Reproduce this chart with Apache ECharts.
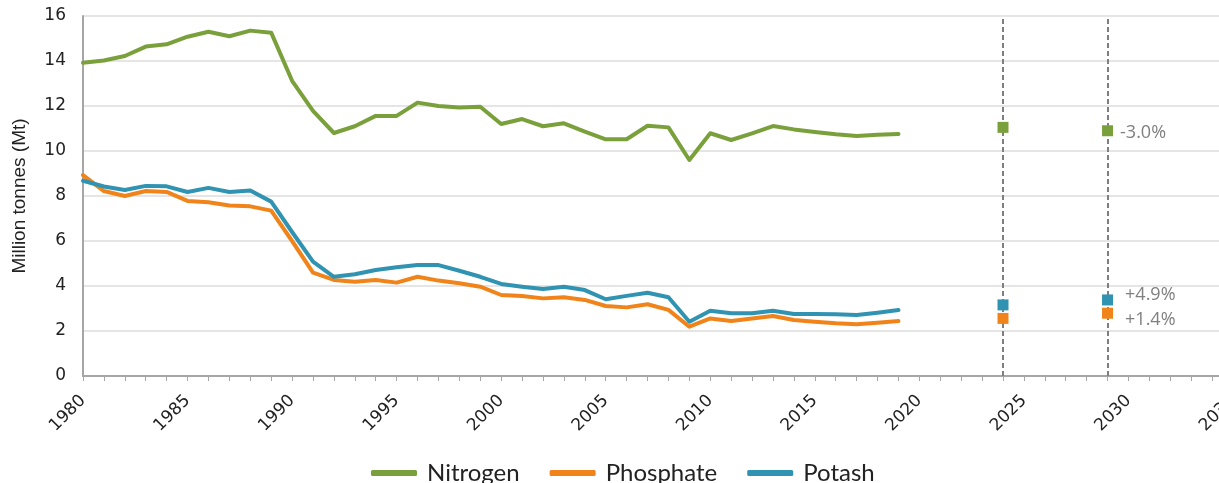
<!DOCTYPE html>
<html><head><meta charset="utf-8">
<script src="https://cdn.jsdelivr.net/npm/echarts@6/dist/echarts.min.js"></script>
<style>html,body{margin:0;padding:0;background:#fff}#c{width:1219px;height:483px}</style>
</head><body><div id="c"></div>
<script>
// ---- data ----
const years = [1980,1981,1982,1983,1984,1985,1986,1987,1988,1989,
               1990,1991,1992,1993,1994,1995,1996,1997,1998,1999,
               2000,2001,2002,2003,2004,2005,2006,2007,2008,2009,
               2010,2011,2012,2013,2014,2015,2016,2017,2018,2019];
const nitrogen = [13.92,14.02,14.22,14.64,14.74,15.08,15.30,15.10,15.35,15.26,
                  13.12,11.78,10.80,11.10,11.56,11.56,12.15,12.00,11.93,11.97,
                  11.20,11.42,11.10,11.23,10.86,10.52,10.52,11.12,11.05,9.60,
                  10.79,10.49,10.78,11.11,10.96,10.84,10.74,10.67,10.72,10.76];
const phosphate = [8.93,8.22,8.00,8.22,8.18,7.78,7.72,7.58,7.54,7.35,
                   6.00,4.59,4.27,4.19,4.27,4.15,4.41,4.24,4.12,3.97,
                   3.60,3.56,3.45,3.50,3.38,3.11,3.05,3.19,2.94,2.19,
                   2.56,2.44,2.56,2.67,2.49,2.41,2.34,2.30,2.37,2.44];
const potash = [8.68,8.42,8.27,8.45,8.43,8.18,8.36,8.18,8.24,7.75,
                6.40,5.08,4.41,4.52,4.71,4.83,4.93,4.93,4.68,4.41,
                4.09,3.97,3.87,3.97,3.82,3.41,3.56,3.70,3.50,2.41,
                2.90,2.79,2.79,2.90,2.76,2.76,2.74,2.71,2.81,2.93];
const projYears = [2025, 2030];
const nitrogenProj = [11.05, 10.90];
const phosphateProj = [2.56, 2.79];
const potashProj = [3.16, 3.38];
const nitrogenChange = '-3.0%';
const phosphateChange = '+1.4%';
const potashChange = '+4.9%';
const seriesNames = ['Nitrogen', 'Phosphate', 'Potash'];

// ---- styling ----
const colors = {Nitrogen: '#7aa03c', Phosphate: '#f0841a', Potash: '#2f93b1'};
const tickFont = 'DejaVu Sans';

function pairs(xs, ys) { return xs.map((x, i) => [x, ys[i]]); }

function lineSeries(name, vals) {
  return {
    name: name, type: 'line', xAxisIndex: 0, data: pairs(years, vals),
    showSymbol: false, symbol: 'none', smooth: false,
    lineStyle: {width: 4, color: colors[name], cap: 'round', join: 'round'},
    itemStyle: {color: colors[name]}, z: 3
  };
}

function projSeries(name, vals, change, offset) {
  const data = pairs(projYears, vals).map((p, i) => {
    if (i === projYears.length - 1) {
      return {value: p, label: {show: true, formatter: change, position: 'right',
        distance: 7, offset: offset, color: '#808080',
        fontFamily: 'Open Sans', fontSize: 18}};
    }
    return {value: p};
  });
  return {
    name: name, type: 'scatter', xAxisIndex: 1, data: data,
    symbol: 'rect', symbolSize: 11, zlevel: 1,
    itemStyle: {color: colors[name], borderWidth: 0, opacity: 1}, z: 10, silent: true
  };
}

const chart = echarts.init(document.getElementById('c'), null, {renderer: 'canvas'});
chart.setOption({
  animation: false,
  backgroundColor: '#ffffff',
  grid: {left: 83, top: 16, width: 1150, height: 360, containLabel: false, outerBoundsMode: 'none'},
  legend: {
    data: seriesNames, left: 366, top: 456,
    icon: 'roundRect', itemWidth: 46, itemHeight: 6, itemGap: 30,
    textStyle: {fontFamily: 'Lato', fontSize: 24, color: '#222', padding: [0, 0, 0, 5]}
  },
  xAxis: [{
    type: 'value', min: 1980, max: 2035, interval: 5,
    axisLine: {show: true, lineStyle: {color: '#a6a6a6', width: 2}},
    axisTick: {show: true, length: 5, lineStyle: {color: '#a6a6a6', width: 1}},
    minorTick: {show: true, splitNumber: 5, length: 5, lineStyle: {color: '#a6a6a6', width: 1}},
    splitLine: {show: false},
    axisLabel: {rotate: 45, margin: 22, fontFamily: tickFont, fontSize: 17, color: '#222',
                formatter: v => String(v)}
  }, {
    type: 'value', min: 1981, max: 2036, show: false,
    axisLine: {show: false}, axisTick: {show: false}, axisLabel: {show: false}, splitLine: {show: false}
  }],
  yAxis: {
    type: 'value', min: 0, max: 16, interval: 2,
    name: 'Million tonnes (Mt)', nameLocation: 'middle', nameGap: 54,
    nameTextStyle: {fontFamily: 'Liberation Sans', fontSize: 19, color: '#222'},
    axisLine: {show: true, lineStyle: {color: '#a6a6a6', width: 2}},
    axisTick: {show: false},
    splitLine: {show: true, lineStyle: {color: '#dcdcdc', width: 1.5}},
    axisLabel: {margin: 17, fontFamily: tickFont, fontSize: 17, color: '#222'}
  },
  series: [
    {
      name: 'projection-lines', type: 'scatter', xAxisIndex: 1, data: [], z: 1, silent: true,
      markLine: {
        silent: true, z: 1, symbol: ['none', 'none'], label: {show: false},
        lineStyle: {color: '#7f7f7f', width: 2, type: [5, 3]},
        data: projYears.map(y => ({xAxis: y}))
      }
    },
    lineSeries('Nitrogen', nitrogen),
    lineSeries('Phosphate', phosphate),
    lineSeries('Potash', potash),
    projSeries('Nitrogen', nitrogenProj, nitrogenChange, [0, 2]),
    projSeries('Potash', potashProj, potashChange, [5, -5]),
    projSeries('Phosphate', phosphateProj, phosphateChange, [5, 7])
  ]
});
</script>
</body></html>
